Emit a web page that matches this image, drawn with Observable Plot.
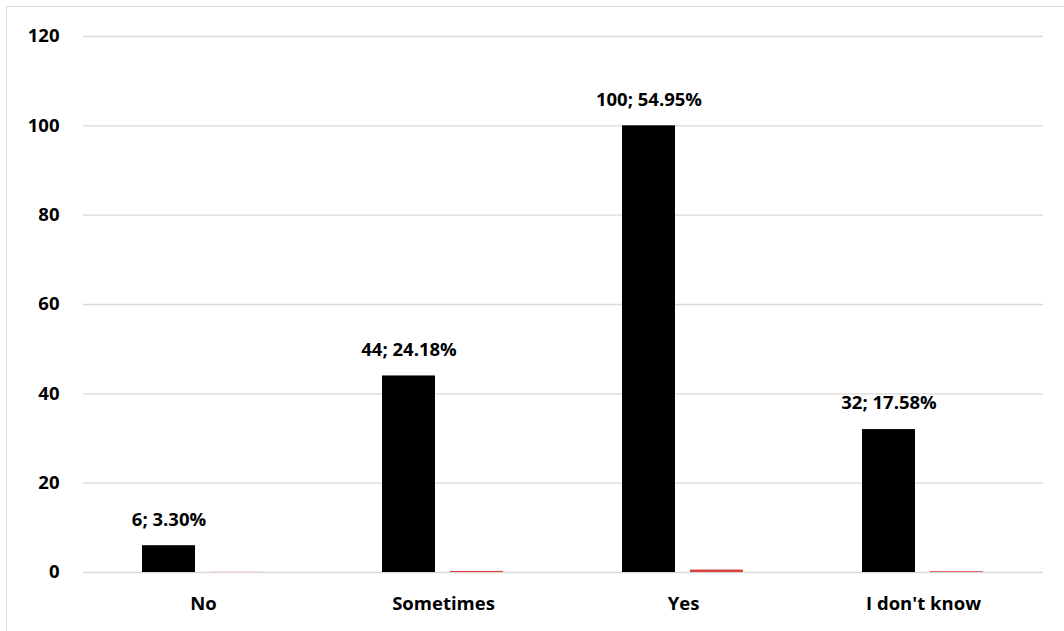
<!DOCTYPE html>
<html>
<head>
<meta charset="utf-8">
<script src="https://cdn.jsdelivr.net/npm/d3@7"></script>
<script src="https://cdn.jsdelivr.net/npm/@observablehq/plot@0.6"></script>
<style>
  html, body { margin: 0; padding: 0; background: #fff; overflow: hidden; }
  #wrap { position: relative; width: 1064px; height: 631px; }
  #frame {
    position: absolute; left: 6px; top: 6px; width: 1100px; height: 700px;
    border-top: 1.5px solid #d9d9d9; border-left: 1.5px solid #d9d9d9;
  }
  #chart { position: absolute; left: 0; top: 0; }
</style>
</head>
<body>
<div id="wrap"><div id="frame"></div><div id="chart"></div></div>
<script>
// Survey answers: respondent counts and their share of all 182 answers
const categories = ["No", "Sometimes", "Yes", "I don't know"];
const counts = [6, 44, 100, 32];
const shares = [0.033, 0.2418, 0.5495, 0.1758];
const yTicks = [0, 20, 40, 60, 80, 100, 120];
const seriesKeys = ["count", "share"];

const rows = categories.flatMap((c, i) => [
  {category: c, series: "count", value: counts[i], share: shares[i]},
  {category: c, series: "share", value: shares[i], share: shares[i]}
]);

const chart = Plot.plot({
  width: 1064,
  height: 631,
  marginLeft: 83,
  marginRight: 21,
  marginTop: 36,
  marginBottom: 59,
  style: {fontFamily: "'Open Sans', Lato, sans-serif", fontSize: "18.5px", fontWeight: "bold", color: "#000", background: "transparent"},
  fx: {domain: categories, padding: 0, label: null, axis: "bottom", tickSize: 0, tickPadding: 24},
  x: {domain: seriesKeys, paddingInner: 0.22, paddingOuter: 0.868, axis: null},
  y: {domain: [0, 120], ticks: yTicks, label: null, tickSize: 0, tickPadding: 24},
  color: {domain: seriesKeys, range: ["#000000", "#d9423c"]},
  marks: [
    Plot.gridY(yTicks, {stroke: "#d9d9d9", strokeOpacity: 1, strokeWidth: 1.3}),
    Plot.barY(rows, {fx: "category", x: "series", y: "value", fill: "series"}),
    Plot.text(rows.filter(d => d.series === "count"), {
      fx: "category", x: "series", y: "value",
      text: d => `${d.value}; ${(d.share * 100).toFixed(2)}%`,
      dy: -26, fill: "#000", fontWeight: "bold"
    })
  ]
});
document.getElementById("chart").appendChild(chart);
</script>
</body>
</html>
